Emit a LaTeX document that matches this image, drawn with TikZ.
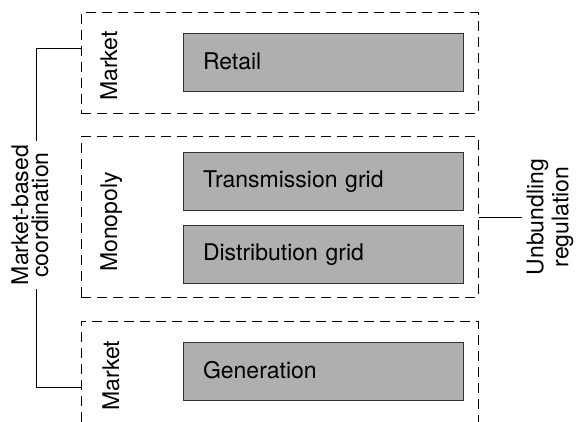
\documentclass[tikz,border=0pt]{standalone}
\usepackage{fontspec}
\setmainfont{TeX Gyre Heros}
\usetikzlibrary{positioning}
\definecolor{partgray}{RGB}{174,175,174}

\begin{document}
\begin{tikzpicture}[
  x=1pt, y=1pt,
  font=\fontsize{23}{21}\selectfont,
  node distance=14pt and 20pt,
  group/.style={draw, line width=1pt, dash pattern=on 10pt off 6pt, minimum width=397pt, inner sep=0pt},
  part/.style={draw=black!80, line width=1pt, fill=partgray, minimum width=280pt, minimum height=58pt, text width=240pt, inner xsep=20pt, align=left, text height=16pt, text depth=3pt},
  grouplabel/.style={rotate=90, anchor=base},
  sidelabel/.style={rotate=90, align=center, inner sep=4pt},
  bracket/.style={draw, line width=1pt}
]

\useasboundingbox (0,0) rectangle (577,-422);

% dashed groups
\node[group, minimum height=101pt] (retailgrp) at (279.5,-63.5) {};
\node[group, minimum height=160pt] (gridgrp) at (279.5,-217) {};
\draw[group] (81,-422) |- (478,-321) -- (478,-422);
\coordinate (genleft) at (81,-387);

% parts of the sector
\node[part] (retail) at (323,-63) {Retail};
\node[part] (trans) at (323,-181) {Transmission grid};
\node[part, below=of trans] (dist) {Distribution grid};
\node[part] (gen) at (323,-371.5) {Generation};

% group labels
\node[grouplabel] (retaillbl) at (117,-66) {Market};
\node[grouplabel] (gridlbl) at (117,-222) {Monopoly};
\node[grouplabel] (genlbl) at (119,-375.5) {Market};

% brackets
\node[sidelabel, font=\fontsize{23}{20}\selectfont] (coord) at (30,-215) {Market-based\\coordination};
\node[sidelabel, font=\fontsize{23}{25}\selectfont] (unbund) at (550,-217) {Unbundling\\regulation};

\draw[bracket] ([yshift=14.5pt]retailgrp.west) -| ([xshift=6pt]coord.east);
\draw[bracket] (genleft) -| ([xshift=6pt]coord.west);
\draw[bracket] (gridgrp.east) -- (unbund.north);

\end{tikzpicture}
\end{document}
